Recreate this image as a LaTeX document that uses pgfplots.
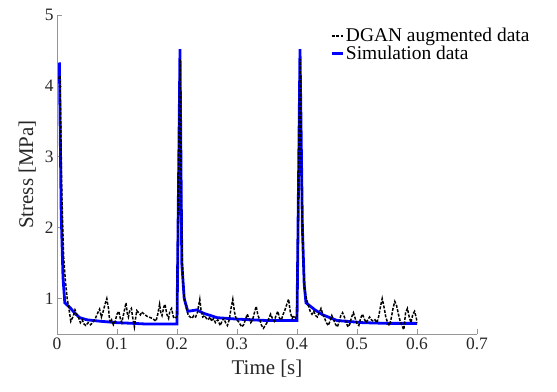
\documentclass[border=0pt]{standalone}
\usepackage{fontspec}
\setmainfont{Liberation Serif}
\usepackage{pgfplots}
\pgfplotsset{compat=1.18}
\definecolor{axgray}{RGB}{150,150,150}
\definecolor{txtgray}{RGB}{38,38,38}
\begin{document}
\begin{tikzpicture}
\begin{axis}[
  name=ax,
  scale only axis,
  width=420bp, height=319bp,
  xmin=0, xmax=0.7, ymin=0.5, ymax=5,
  axis lines*=left,
  axis line style={axgray, line width=0.8bp},
  tick align=inside,
  major tick length=5bp,
  tick style={axgray, line width=0.6bp},
  xtick={0,0.1,0.2,0.3,0.4,0.5,0.6,0.7},
  ytick={1,2,3,4,5},
  xticklabels={0,0.1,0.2,0.3,0.4,0.5,0.6,0.7},
  yticklabels={1,2,3,4,5},
  /pgf/number format/assume math mode=true,
  tick label style={font=\fontsize{17.5}{20}\selectfont, text=txtgray},
  xlabel={Time [s]},
  ylabel={Stress [MPa]},
  label style={font=\fontsize{21}{24}\selectfont, text=txtgray},
  xlabel style={yshift=-4bp},
  ylabel style={yshift=2bp},
  legend style={at={(0.65,0.965)}, anchor=north west, draw=none, fill=none,
    font=\fontsize{19.5}{22}\selectfont, inner sep=0pt, row sep=-1bp,
    /tikz/every even column/.append style={column sep=2bp}},
  legend cell align=left,
  legend image code/.code={\draw[#1] (0bp,0bp) -- (11bp,0bp);},
  reverse legend,
]
\addplot[blue, line width=2.8bp] coordinates {
(0.004,4.33) (0.007,2.2) (0.010,1.3) (0.013,0.94) (0.022,0.87) (0.030,0.79)
(0.038,0.73) (0.050,0.70) (0.072,0.68) (0.100,0.66) (0.127,0.65) (0.150,0.64)
(0.200,0.64) (0.205,4.52) (0.208,1.5) (0.212,1.0) (0.218,0.82) (0.226,0.83)
(0.233,0.84) (0.245,0.79) (0.267,0.73) (0.300,0.71) (0.350,0.69) (0.400,0.69)
(0.405,4.52) (0.409,2.0) (0.412,1.2) (0.415,0.94) (0.430,0.84) (0.443,0.77)
(0.467,0.69) (0.510,0.66) (0.550,0.65) (0.600,0.65)
};
\addlegendentry{Simulation data}
\addplot[black, line width=1.5bp, dash pattern=on 3bp off 1.5bp] coordinates {
(0.003,4.10) (0.005,4.15) (0.008,2.5) (0.011,1.6) (0.014,1.25) (0.017,1.0)
(0.020,0.85) (0.023,0.68) (0.027,0.75) (0.030,0.84) (0.033,0.78) (0.036,0.73)
(0.039,0.66) (0.042,0.70) (0.045,0.64) (0.048,0.62) (0.052,0.66) (0.056,0.63)
(0.060,0.67) (0.064,0.72) (0.068,0.80) (0.071,0.85) (0.074,0.74) (0.077,0.82)
(0.080,0.92) (0.083,1.00) (0.086,0.85) (0.088,0.66) (0.091,0.70) (0.094,0.63)
(0.097,0.68) (0.100,0.78) (0.103,0.82) (0.106,0.70) (0.108,0.66) (0.111,0.78)
(0.113,0.86) (0.115,0.94) (0.117,0.80) (0.119,0.74) (0.121,0.82) (0.124,0.86)
(0.126,0.74) (0.129,0.60) (0.131,0.72) (0.133,0.83) (0.136,0.80) (0.139,0.77)
(0.141,0.81) (0.144,0.79) (0.147,0.77) (0.150,0.75) (0.153,0.74) (0.156,0.73)
(0.159,0.72) (0.162,0.70) (0.165,0.68) (0.168,0.78) (0.171,0.92) (0.173,0.80)
(0.175,0.76) (0.178,0.88) (0.180,0.92) (0.183,0.78) (0.186,0.72) (0.188,0.82)
(0.191,0.86) (0.194,0.74) (0.197,0.72) (0.200,0.75) (0.202,2.5) (0.205,4.38)
(0.207,2.5) (0.209,1.5) (0.211,1.1) (0.213,0.98) (0.216,0.85) (0.219,0.76)
(0.222,0.74) (0.225,0.72) (0.228,0.76) (0.231,0.74) (0.234,0.80) (0.236,0.90)
(0.238,0.99) (0.240,0.84) (0.243,0.74) (0.246,0.76) (0.249,0.72) (0.252,0.70)
(0.255,0.74) (0.258,0.68) (0.261,0.72) (0.264,0.66) (0.268,0.70) (0.272,0.62)
(0.275,0.68) (0.278,0.72) (0.281,0.66) (0.284,0.62) (0.287,0.70) (0.290,0.86)
(0.293,0.99) (0.296,0.80) (0.299,0.70) (0.302,0.68) (0.305,0.64) (0.308,0.60)
(0.311,0.63) (0.314,0.70) (0.317,0.78) (0.320,0.72) (0.323,0.66) (0.326,0.70)
(0.329,0.80) (0.332,0.89) (0.335,0.76) (0.338,0.70) (0.341,0.62) (0.344,0.58)
(0.347,0.62) (0.350,0.66) (0.353,0.72) (0.356,0.78) (0.359,0.72) (0.362,0.68)
(0.365,0.76) (0.368,0.82) (0.371,0.72) (0.374,0.70) (0.377,0.78) (0.380,0.84)
(0.383,0.92) (0.386,0.99) (0.389,0.80) (0.392,0.72) (0.395,0.76) (0.398,0.72)
(0.400,0.74) (0.402,2.5) (0.405,4.38) (0.407,3.0) (0.409,2.0) (0.411,1.4)
(0.413,1.12) (0.416,0.99) (0.419,0.90) (0.422,0.82) (0.425,0.78) (0.428,0.82)
(0.431,0.76) (0.434,0.74) (0.437,0.80) (0.440,0.86) (0.443,0.78) (0.446,0.72)
(0.449,0.66) (0.452,0.62) (0.455,0.68) (0.458,0.76) (0.461,0.70) (0.464,0.64)
(0.467,0.60) (0.470,0.66) (0.473,0.76) (0.476,0.80) (0.479,0.74) (0.482,0.66)
(0.485,0.60) (0.488,0.64) (0.491,0.74) (0.494,0.80) (0.497,0.72) (0.500,0.64)
(0.503,0.62) (0.506,0.72) (0.509,0.78) (0.512,0.72) (0.515,0.66) (0.518,0.70)
(0.521,0.74) (0.524,0.70) (0.527,0.68) (0.530,0.70) (0.533,0.66) (0.536,0.74)
(0.539,0.88) (0.542,1.00) (0.545,0.88) (0.548,0.74) (0.551,0.66) (0.554,0.62)
(0.557,0.72) (0.560,0.86) (0.563,0.96) (0.566,0.90) (0.569,0.78) (0.572,0.68)
(0.575,0.62) (0.578,0.56) (0.581,0.80) (0.584,0.86) (0.587,0.74) (0.590,0.66)
(0.593,0.78) (0.596,0.82) (0.599,0.72) (0.600,0.66)
};
\addlegendentry{DGAN augmented data}
\end{axis}
\pgfresetboundingbox
\path (ax.south west) ++(-57bp,-58bp) rectangle ++(557bp,392bp);
\end{tikzpicture}
\end{document}
